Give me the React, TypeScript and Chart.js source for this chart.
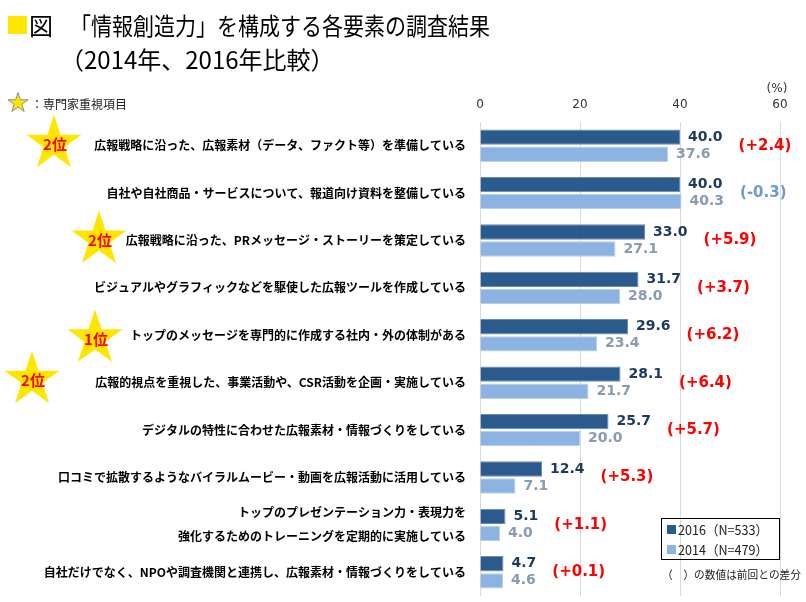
import React, { useEffect, useRef } from "react";
import { Chart, registerables } from "chart.js";
Chart.register(...registerables);

const TITLE_LINE1 = "「情報創造力」を構成する各要素の調査結果";
const TITLE_LINE2 = "（2014年、2016年比較）";

const categories: (string | string[])[] = [
  "広報戦略に沿った、広報素材（データ、ファクト等）を準備している",
  "自社や自社商品・サービスについて、報道向け資料を整備している",
  "広報戦略に沿った、PRメッセージ・ストーリーを策定している",
  "ビジュアルやグラフィックなどを駆使した広報ツールを作成している",
  "トップのメッセージを専門的に作成する社内・外の体制がある",
  "広報的視点を重視した、事業活動や、CSR活動を企画・実施している",
  "デジタルの特性に合わせた広報素材・情報づくりをしている",
  "口コミで拡散するようなバイラルムービー・動画を広報活動に活用している",
  ["トップのプレゼンテーション力・表現力を", "強化するためのトレーニングを定期的に実施している"],
  "自社だけでなく、NPOや調査機関と連携し、広報素材・情報づくりをしている",
];
const values2016 = [40.0, 40.0, 33.0, 31.7, 29.6, 28.1, 25.7, 12.4, 5.1, 4.7];
const values2014 = [37.6, 40.3, 27.1, 28.0, 23.4, 21.7, 20.0, 7.1, 4.0, 4.6];
const diffs = [2.4, -0.3, 5.9, 3.7, 6.2, 6.4, 5.7, 5.3, 1.1, 0.1];
const ranks = ["2位", "", "2位", "", "1位", "2位", "", "", "", ""];
const seriesNames = ["2016（N=533）", "2014（N=479）"];
const xTickMin = 0;
const xTickMax = 60;
const xTickStep = 20;

const DARK = "#2B5A8C";
const LIGHT = "#8DB3E2";
const YELLOW = "#FFE600";
const JP = '"Noto Sans CJK JP", "Noto Sans", sans-serif';
const LAT = '"DejaVu Sans", Verdana, sans-serif';

// star decoration placement (x in px, y offset from category centre)
const STAR_LAYOUT: Record<number, { x: number; dy: number }> = {
  0: { x: 54, dy: -2 },
  2: { x: 99, dy: -1 },
  4: { x: 95, dy: 3 },
  5: { x: 32, dy: -3 },
};

function star(ctx: CanvasRenderingContext2D, cx: number, cy: number, R: number) {
  const r = R * 0.382;
  ctx.beginPath();
  for (let i = 0; i < 10; i++) {
    const rad = i % 2 === 0 ? R : r;
    const a = -Math.PI / 2 + (i * Math.PI) / 5;
    const px = cx + rad * Math.cos(a);
    const py = cy + rad * Math.sin(a);
    if (i === 0) ctx.moveTo(px, py);
    else ctx.lineTo(px, py);
  }
  ctx.closePath();
}

const overlay = {
  id: "overlay",
  afterDraw(chart: any) {
    const ctx: CanvasRenderingContext2D = chart.ctx;
    const ys = chart.scales.y;
    ctx.save();

    // Title
    ctx.fillStyle = YELLOW;
    ctx.fillRect(8, 16, 19, 18);
    ctx.fillStyle = "#000";
    ctx.textBaseline = "middle";
    ctx.textAlign = "left";
    ctx.font = `400 24px ${JP}`;
    ctx.fillText("図", 29, 26);
    ctx.fillText(TITLE_LINE1, 70, 26, 420);
    ctx.fillText(TITLE_LINE2, 60, 60, 276);

    // star legend
    star(ctx, 18, 103, 10.5);
    ctx.fillStyle = YELLOW;
    ctx.fill();
    ctx.strokeStyle = "#8c8c8c";
    ctx.lineWidth = 1;
    ctx.stroke();
    ctx.fillStyle = "#222";
    ctx.font = `400 12px ${JP}`;
    ctx.fillText("：専門家重視項目", 31, 104, 96);

    // (%)
    ctx.font = `400 12px ${LAT}`;
    ctx.fillStyle = "#333";
    ctx.textAlign = "center";
    ctx.fillText("(%)", 777, 89);

    // rank stars
    ranks.forEach((rk, i) => {
      if (!rk) return;
      const lay = STAR_LAYOUT[i];
      if (!lay) return;
      const cy = ys.getPixelForValue(i) + lay.dy;
      star(ctx, lay.x, cy, 29);
      ctx.fillStyle = YELLOW;
      ctx.fill();
      ctx.fillStyle = "#FF0000";
      ctx.font = `700 15px ${JP}`;
      ctx.textAlign = "center";
      ctx.fillText(rk, lay.x + 1, cy + 1);
    });

    // value labels
    const m0 = chart.getDatasetMeta(0);
    const m1 = chart.getDatasetMeta(1);
    ctx.textAlign = "left";
    ctx.font = `700 14px ${LAT}`;
    const ends: number[] = [];
    m0.data.forEach((el: any, i: number) => {
      const t0 = values2016[i].toFixed(1);
      const t1 = values2014[i].toFixed(1);
      const e1 = m1.data[i];
      ctx.fillStyle = "#1B3A5E";
      ctx.fillText(t0, el.x + 8, el.y);
      ctx.fillStyle = "#8A9AB0";
      ctx.fillText(t1, e1.x + 8, e1.y);
      ends[i] = Math.max(el.x + 8 + ctx.measureText(t0).width, e1.x + 8 + ctx.measureText(t1).width);
    });

    // diffs
    ctx.font = `700 15px ${LAT}`;
    diffs.forEach((d, i) => {
      const txt = `(${d > 0 ? "+" : ""}${d.toFixed(1)})`;
      ctx.fillStyle = d >= 0 ? "#FF0000" : "#6A9BD3";
      ctx.fillText(txt, ends[i] + 16, ys.getPixelForValue(i));
    });

    // legend box
    ctx.strokeStyle = "#000";
    ctx.lineWidth = 1;
    ctx.strokeRect(661.5, 518.5, 118, 41);
    ctx.fillStyle = DARK;
    ctx.fillRect(667, 525, 9, 9);
    ctx.fillStyle = LIGHT;
    ctx.fillRect(667, 545, 9, 9);
    ctx.fillStyle = "#222";
    ctx.font = `400 13px ${JP}`;
    ctx.fillText(seriesNames[0], 678, 530, 90);
    ctx.fillText(seriesNames[1], 678, 550, 90);

    ctx.font = `400 11px ${JP}`;
    ctx.fillText("（　）の数値は前回との差分", 662, 575, 139);

    ctx.restore();
  },
};

export default function App() {
  const ref = useRef<HTMLCanvasElement | null>(null);
  useEffect(() => {
    if (!ref.current) return;
    const chart = new Chart(ref.current, {
      type: "bar",
      data: {
        labels: categories,
        datasets: [
          {
            label: seriesNames[0],
            data: values2016,
            backgroundColor: DARK,
            borderColor: "#6F8AAB",
            borderWidth: 1,
            categoryPercentage: 0.72,
            barPercentage: 0.9,
          },
          {
            label: seriesNames[1],
            data: values2014,
            backgroundColor: LIGHT,
            borderColor: "#B9CFEC",
            borderWidth: 1,
            categoryPercentage: 0.72,
            barPercentage: 0.9,
          },
        ],
      },
      options: {
        indexAxis: "y",
        responsive: false,
        animation: false,
        devicePixelRatio: 1,
        layout: { padding: { top: 0, left: 0, right: 26, bottom: 6 } },
        plugins: { legend: { display: false }, tooltip: { enabled: false }, title: { display: false } },
        scales: {
          x: {
            position: "top",
            min: xTickMin,
            max: xTickMax,
            ticks: {
              stepSize: xTickStep,
              padding: 10,
              color: "#333",
              font: { family: LAT, size: 12 },
            },
            grid: { color: "#D9D9D9", drawTicks: false, lineWidth: 1 },
            border: { display: false },
            afterFit: (s: any) => {
              s.height = 122;
              s.paddingLeft = 0;
              s.paddingRight = 0;
            },
          },
          y: {
            ticks: {
              padding: 14,
              color: "#000",
              autoSkip: false,
              font: { family: JP, size: 12, weight: "bold", lineHeight: 2 },
            },
            grid: { display: false, drawTicks: false },
            border: { display: false },
            afterFit: (s: any) => {
              s.width = 480;
              s.paddingTop = 0;
              s.paddingBottom = 0;
            },
          },
        },
      },
      plugins: [overlay],
    } as any);
    return () => chart.destroy();
  }, []);
  return (
    <div style={{ position: "fixed", left: 0, top: 0, width: 806, height: 602, background: "#fff" }}>
      <canvas ref={ref} width={806} height={602} style={{ width: 806, height: 602, display: "block" }} />
    </div>
  );
}
